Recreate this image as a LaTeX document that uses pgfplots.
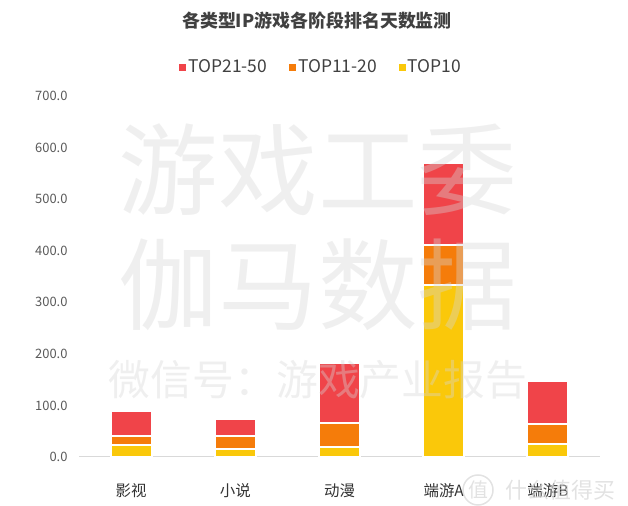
\documentclass[border=0pt]{standalone}
\usepackage{fontspec}
\setmainfont{Noto Sans CJK SC}
\usepackage{pgfplots}
\pgfplotsset{compat=1.18}

\definecolor{cRed}{RGB}{240,68,73}
\definecolor{cOrange}{RGB}{245,124,10}
\definecolor{cYellow}{RGB}{250,200,10}
\definecolor{wm}{RGB}{214,214,214}

\begin{document}
\begin{tikzpicture}[x=1bp,y=1bp]
\path (0,0) rectangle (628,506);
\begin{axis}[
    at={(79bp,49bp)}, anchor=south west,
    scale only axis, width=521bp, height=361bp,
    ybar stacked, bar width=41bp,
    xmin=-0.5, xmax=4.5, ymin=0, ymax=700,
    xtick={0,...,4},
    xticklabels={影视,小说,动漫,端游A,端游B},
    ytick={0,100,...,700},
    axis x line*=bottom, axis y line*=left,
    axis line style={-},
    x axis line style={draw=black!15, line width=1bp},
    y axis line style={draw=none},
    major tick length=0pt,
    /pgf/number format/assume math mode=true,
    yticklabel style={/pgf/number format/.cd, fixed, fixed zerofill, precision=1, 1000 sep={},
        /tikz/.cd, font=\fontsize{13}{13}\selectfont, text=black!65, xshift=-8bp},
    xticklabel style={font=\fontsize{15.5}{15.5}\selectfont, text=black!80, yshift=-23bp},
    legend style={at={(0.465,1.08)}, anchor=center, draw=none, fill=none,
        legend columns=3, font=\fontsize{17.5}{17.5}\selectfont, text=black!75,
        /tikz/every even column/.append style={column sep=20bp},
        /tikz/every odd column/.append style={inner xsep=0pt}},
    legend image code/.code={\fill[#1, draw=none] (0bp,-3.5bp) rectangle (7bp,3.5bp);},
    reverse legend,
]
\addplot[fill=cYellow, draw=white, line width=2bp] coordinates {(0,23) (1,16) (2,19) (3,333) (4,26)};
\addlegendentry{TOP10}
\addplot[fill=cOrange, draw=white, line width=2bp] coordinates {(0,17.5) (1,25) (2,47) (3,79) (4,38)};
\addlegendentry{TOP11-20}
\addplot[fill=cRed, draw=white, line width=2bp] coordinates {(0,48.5) (1,32) (2,117) (3,159) (4,84)};
\addlegendentry{TOP21-50}
\end{axis}

\node[font=\fontsize{18}{18}\selectfont\bfseries, text=black!75] at (317,485) {各类型IP游戏各阶段排名天数监测};

\begin{scope}[opacity=0.38]
\node[font=\fontsize{100}{100}\selectfont, text=wm] at (318,336) {游戏工委};
\node[font=\fontsize{100}{100}\selectfont, text=wm] at (318,221) {伽马数据};
\node[font=\fontsize{42}{42}\selectfont, text=wm] at (318,126) {微信号：游戏产业报告};
\end{scope}

\begin{scope}[opacity=0.7]
\draw[wm, line width=1.5bp] (478,16) circle (15);
\node[font=\fontsize{20}{20}\selectfont, text=wm] at (478,16) {值};
\node[font=\fontsize{22}{22}\selectfont, text=wm, anchor=west] at (502,16) {什么值得买};
\end{scope}
\end{tikzpicture}
\end{document}
